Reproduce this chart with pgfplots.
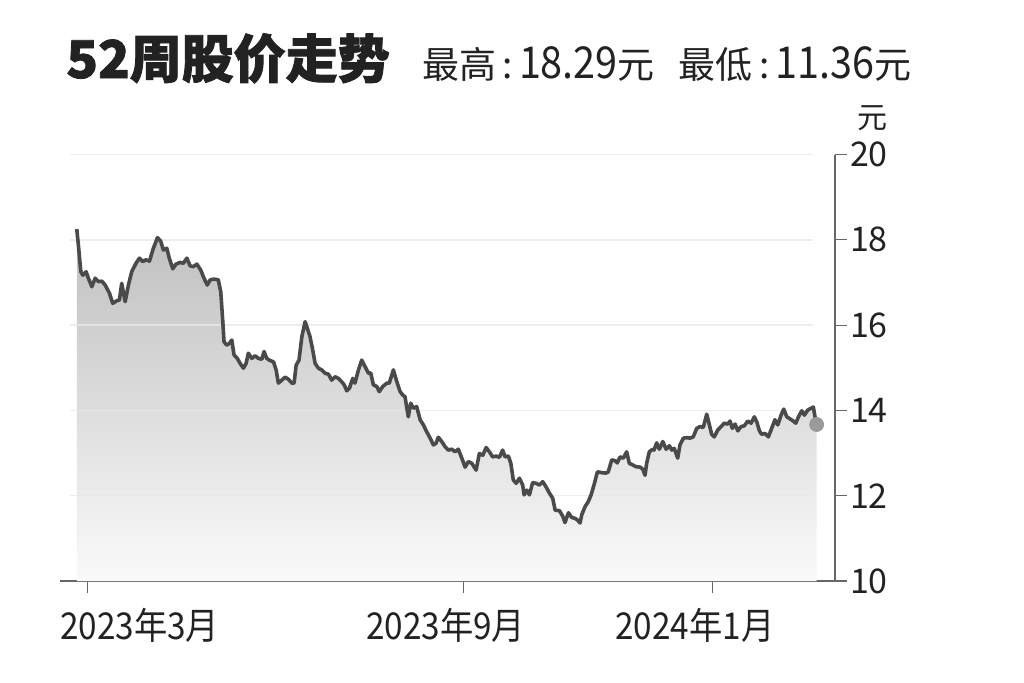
\documentclass[border=0pt]{standalone}
\usepackage{fontspec}
\usepackage{pgfplots}
\usepackage{pgfplotstable}
\pgfplotsset{compat=1.18}
\setmainfont{Noto Sans CJK SC}
\newfontfamily\narrow[FakeStretch=0.9]{Noto Sans CJK SC}
\newfontfamily\heavy[BoldFeatures={FakeBold=1.6}]{Noto Sans CJK SC}

\definecolor{linec}{HTML}{4A4A4A}
\definecolor{dotc}{HTML}{9A9A9A}
\definecolor{gridc}{HTML}{E8E8E8}
\definecolor{axisc}{HTML}{666666}
\definecolor{txt}{HTML}{222222}

% days since 2023-03-01, price in yuan
\pgfplotstableread{
d p
-5.4 18.25
-4.6 17.88
-3.4 17.25
-2.4 17.17
-0.8 17.25
0.3 17.10
2.0 16.90
3.6 17.10
5.2 17.02
6.9 17.03
8.5 16.94
10.6 16.75
12.2 16.51
14.2 16.57
15.5 16.59
16.6 16.98
18.3 16.55
19.9 16.94
21.5 17.25
23.6 17.45
25.3 17.57
26.9 17.49
28.5 17.53
30.2 17.50
32.1 17.80
34.1 18.05
35.7 17.97
37.0 17.76
38.7 17.80
39.9 17.57
41.6 17.32
43.2 17.43
45.2 17.47
46.8 17.45
48.5 17.57
50.1 17.39
51.7 17.37
53.4 17.43
55.3 17.29
56.9 17.10
58.5 16.94
59.9 17.06
61.8 17.08
63.9 17.06
65.1 16.78
66.1 16.08
66.7 15.61
68.0 15.53
69.3 15.57
70.5 15.65
71.6 15.30
73.2 15.22
74.6 15.10
76.2 14.99
77.5 15.10
78.6 15.34
80.3 15.22
81.9 15.28
83.5 15.22
85.2 15.20
86.3 15.38
87.6 15.22
89.2 15.17
90.9 15.14
92.2 14.95
93.3 14.64
95.0 14.71
96.6 14.78
98.2 14.73
99.9 14.64
101.0 14.64
102.0 15.06
103.4 15.18
104.8 15.73
106.4 16.08
107.5 15.92
108.8 15.73
110.1 15.42
111.3 15.10
112.9 14.99
114.5 14.95
116.2 14.87
117.8 14.85
119.4 14.71
121.1 14.79
122.7 14.75
124.3 14.67
125.5 14.60
126.8 14.46
128.1 14.52
129.7 14.75
130.8 14.64
132.5 14.95
134.1 15.18
135.7 15.03
137.4 14.87
138.5 14.88
139.8 14.60
141.5 14.56
142.7 14.44
144.4 14.56
146.4 14.64
147.6 14.64
149.6 14.95
151.3 14.67
152.9 14.44
154.2 14.36
155.3 14.32
156.9 13.85
158.1 14.17
159.4 14.05
161.0 14.09
162.7 13.78
164.3 13.66
165.9 13.50
167.6 13.35
169.2 13.19
170.5 13.23
171.6 13.37
173.3 13.27
174.9 13.15
176.5 13.07
178.2 13.09
179.8 13.03
181.4 13.09
183.1 12.88
184.7 12.67
186.3 12.80
188.0 12.76
190.1 12.60
191.7 12.99
193.4 12.95
195.0 13.13
196.6 13.03
198.2 12.91
199.9 12.93
201.5 12.90
203.1 13.07
204.3 12.91
205.9 12.93
207.1 12.76
208.3 12.37
209.7 12.29
211.3 12.41
212.9 12.25
213.6 12.02
214.9 12.13
216.2 12.02
217.8 12.31
219.5 12.29
221.1 12.25
222.7 12.33
224.3 12.21
226.0 12.06
227.6 11.94
228.8 11.66
230.9 11.65
232.5 11.52
233.6 11.37
235.3 11.60
236.9 11.49
238.5 11.47
239.7 11.43
241.0 11.36
241.8 11.55
243.4 11.74
245.0 11.86
246.4 12.02
247.8 12.25
249.5 12.56
251.6 12.54
253.7 12.53
254.8 12.56
256.5 12.84
258.1 12.82
259.2 12.77
260.6 12.91
262.2 12.88
263.8 13.03
265.1 12.76
266.8 12.72
268.4 12.68
270.4 12.67
271.7 12.62
272.8 12.48
273.6 12.76
274.9 13.03
276.6 13.09
277.2 13.07
278.5 13.24
279.8 13.09
281.5 13.27
283.1 13.09
284.7 13.17
285.9 13.07
287.1 13.11
288.8 12.88
289.9 13.19
291.6 13.35
293.2 13.36
294.8 13.35
296.4 13.38
298.1 13.58
299.7 13.62
301.3 13.60
303.0 13.91
304.1 13.70
305.4 13.44
306.7 13.38
308.4 13.54
310.0 13.62
311.6 13.70
313.3 13.68
314.4 13.75
315.5 13.58
316.9 13.68
318.2 13.52
319.8 13.62
321.4 13.64
323.1 13.75
324.7 13.70
326.3 13.85
327.5 13.73
328.8 13.52
329.9 13.44
331.5 13.46
333.2 13.38
334.8 13.58
336.4 13.78
337.8 13.66
339.4 13.89
340.7 14.03
342.2 13.85
343.8 13.80
345.4 13.75
346.6 13.70
347.9 13.85
349.5 13.99
350.8 13.89
352.5 14.01
354.1 14.05
355.2 14.08
356.0 13.85
356.8 13.70
}\price

\begin{document}
\begin{tikzpicture}
\path[use as bounding box] (-30pt,-50.5pt) rectangle (482pt,290.5pt);
\begin{axis}[
    at={(0pt,0pt)}, anchor=south west,
    scale only axis,
    width=387.5pt, height=213.25pt,
    xmin=-13.6, xmax=365.8,
    ymin=10, ymax=20,
    axis x line*=bottom,
    axis y line*=right,
    axis line style={axisc, line width=0.7pt, -},
    tick align=outside,
    major tick length=6pt,
    tick style={axisc, line width=0.6pt},
    xtick={184,306},
    xticklabels={2023年9月,2024年1月},
    extra x ticks={0},
    extra x tick labels={2023年3月},
    extra x tick style={xticklabel style={xshift=35pt}},
    xticklabel style={font=\narrow\fontsize{18.5}{18.5}\selectfont, text=txt, xshift=-9pt, yshift=-4pt},
    ytick={10,12,...,20},
    yticklabel style={font=\fontsize{17}{17}\selectfont, text=txt, anchor=west, xshift=-2pt},
    /pgf/number format/assume math mode=true,
]
\addplot[draw=none, top color=black!25, bottom color=black!2, forget plot] table[x=d, y=p] {\price} \closedcycle;
% grid lines
\pgfplotsinvokeforeach{12,14,16,18,20}{
  \draw[gridc, line width=0.7pt, opacity=0.8] (axis cs:-8.5,#1) -- (axis cs:355,#1);
}
\addplot[linec, line width=1.8pt, line join=round] table[x=d, y=p] {\price};
\addplot[only marks, mark=*, mark size=3.5pt, dotc, mark options={draw=dotc, fill=dotc}] coordinates {(356.8,13.67)};
\end{axis}
\node[anchor=base west, inner sep=0pt, text=txt, font=\heavy\bfseries\fontsize{26}{26}\selectfont] at (3pt,251.5pt) {52周股价走势};
\node[anchor=base west, inner sep=0pt, text=txt, font=\fontsize{18.5}{18.5}\selectfont] at (181pt,251.5pt) {最高\,:\,{\narrow\fontsize{22}{22}\selectfont 18.29}元\hspace{0.65em}最低\,:\,{\narrow\fontsize{22}{22}\selectfont 11.36}元};
\node[text=txt, font=\fontsize{15}{15}\selectfont] at (406pt,231.5pt) {元};
\end{tikzpicture}
\end{document}
